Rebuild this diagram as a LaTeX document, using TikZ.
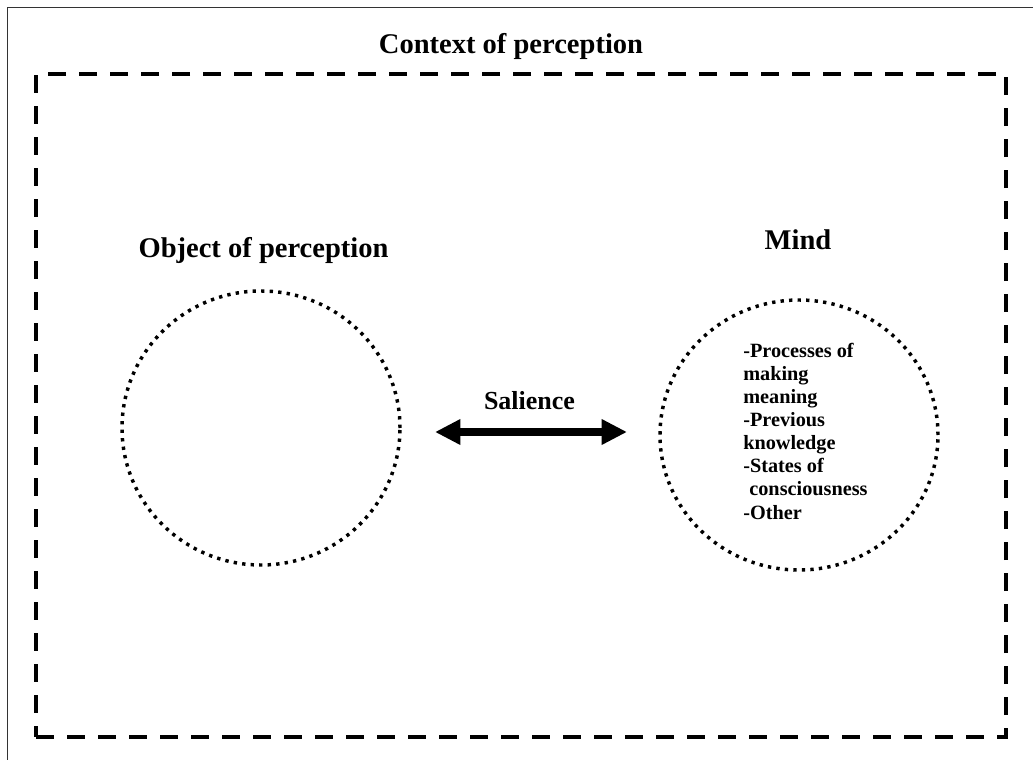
\documentclass[tikz,border=0pt]{standalone}
\usepackage{fontspec}
\setmainfont{Liberation Serif}
\usetikzlibrary{shapes.geometric,arrows.meta}

\tikzset{
  frameline/.style={draw=black!80, line width=0.75pt},
  contextbox/.style={draw=black, line width=3.2pt, dash pattern=on 13.5pt off 9.75pt},
  dotcircle/.style={draw=black, ellipse, inner sep=0pt, line width=2.6pt,
                    dash pattern=on 2.5pt off 3.9pt},
  heading/.style={font=\fontsize{21.4}{25}\selectfont\bfseries, anchor=base, inner sep=0pt},
  listtext/.style={font=\fontsize{15.2}{17.3}\selectfont\bfseries, align=left,
                   anchor=north west, inner sep=0pt},
  twoway/.style={line width=5.5pt, {Triangle[length=19pt,width=18pt]}-{Triangle[length=19pt,width=18pt]}}
}

\begin{document}
\begin{tikzpicture}[x=0.75pt, y=-0.75pt]
  \useasboundingbox (0,0) rectangle (1033,760);

  % thin page frame along top and left
  \coordinate (fTL) at (7,7);
  \coordinate (fTR) at (1033,7);
  \coordinate (fBL) at (7,760);
  \draw[frameline] (fBL) -- (fTL) -- (fTR);

  % dashed context box
  \node[contextbox, minimum width=727.5pt, minimum height=497.25pt, inner sep=0pt]
    (context) at (521,405.5) {};
  \node[heading] (ctxlabel) at (511,53) {Context of perception};

  % object of perception
  \node[dotcircle, minimum width=208.5pt, minimum height=205.5pt] (object) at (261,428) {};
  \node[heading] (objlabel) at (263.5,257) {Object of perception};

  % mind
  \node[dotcircle, minimum width=208.5pt, minimum height=202.5pt] (mind) at (799,435) {};
  \node[heading] (mindlabel) at (798,249) {Mind};
  \node[listtext] (mindlist) at (743,343) {-Processes of\\making\\meaning\\-Previous\\knowledge\\-States of\\\hspace*{0.3em}consciousness\\-Other};

  % salience arrow
  \coordinate (salL) at (435,432);
  \coordinate (salR) at (627,432);
  \draw[twoway] (salL) -- (salR);
  \node[heading, font=\fontsize{19.5}{23}\selectfont\bfseries] (sallabel) at (529.5,409) {Salience};
\end{tikzpicture}
\end{document}
